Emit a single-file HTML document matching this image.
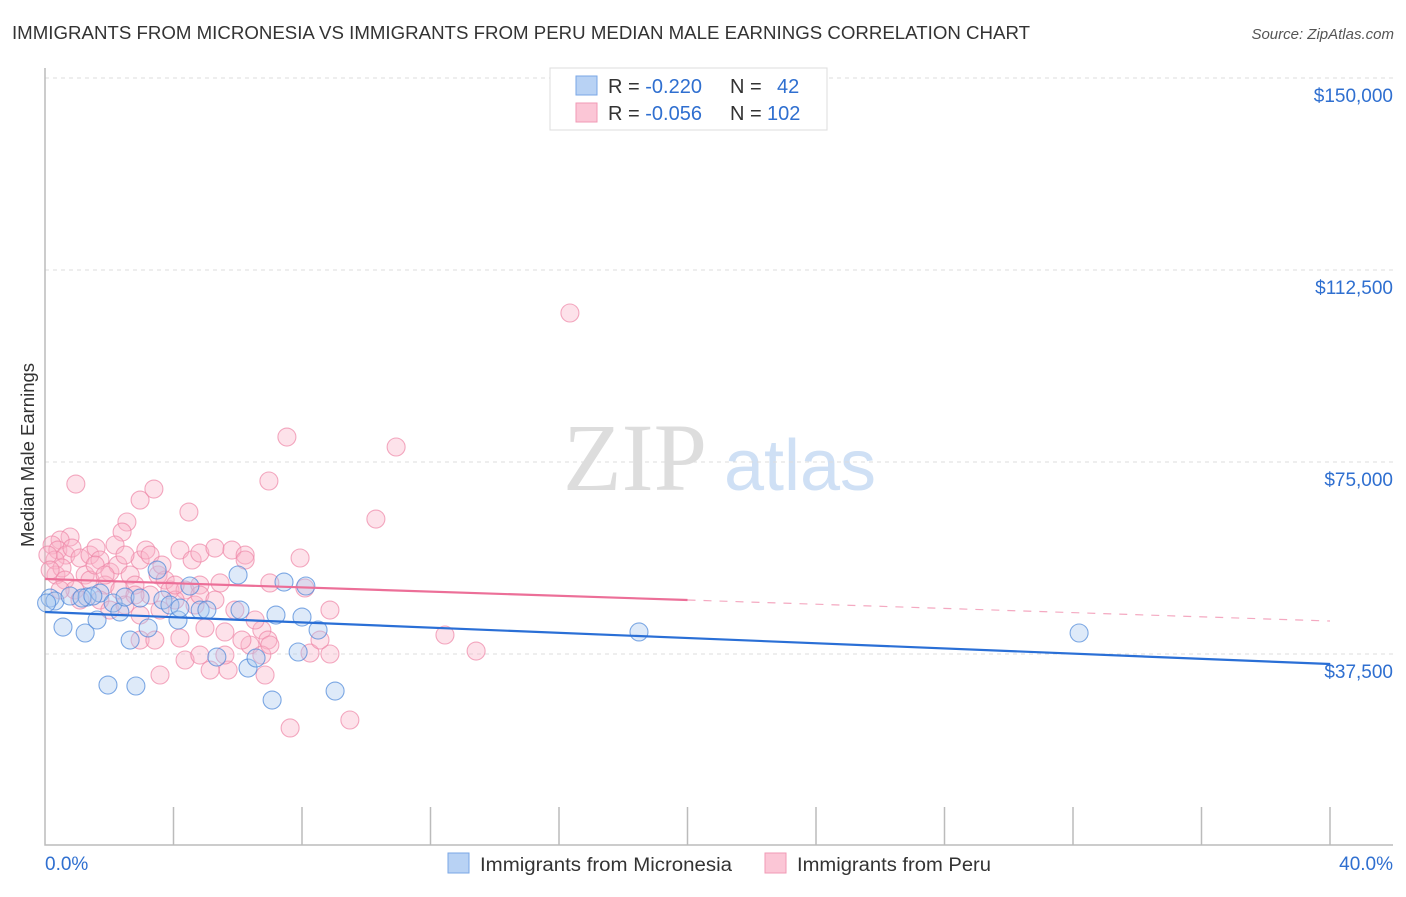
<!DOCTYPE html>
<html><head><meta charset="utf-8"><style>
body{margin:0;background:#fff;font-family:"Liberation Sans",sans-serif;}
</style></head><body>
<svg id="chart" width="1406" height="892" xmlns="http://www.w3.org/2000/svg" style="font-family:'Liberation Sans',sans-serif">
<text x="12" y="39" font-size="18" fill="#333" textLength="1018" lengthAdjust="spacingAndGlyphs">IMMIGRANTS FROM MICRONESIA VS IMMIGRANTS FROM PERU MEDIAN MALE EARNINGS CORRELATION CHART</text>
<text x="1394" y="39" font-size="15" fill="#555" text-anchor="end" font-style="italic">Source: ZipAtlas.com</text>
<text transform="translate(34,455) rotate(-90)" font-size="18.5" fill="#333" text-anchor="middle">Median Male Earnings</text>
<g><text x="635" y="490" font-size="96" fill="#ddd" font-family="Liberation Serif" text-anchor="middle">ZIP</text><text x="800" y="490" font-size="72" fill="#cfe0f5" text-anchor="middle">atlas</text></g>
<g id="grid"></g><g id="axes"></g><g id="pts"></g><g id="trend"></g>
<g>
<rect x="550" y="68" width="277" height="62" fill="#fff" stroke="#ddd"/>
<rect x="576" y="76" width="21" height="19" fill="#b8d2f4" stroke="#7aa7e6"/>
<rect x="576" y="103" width="21" height="19" fill="#fbc6d6" stroke="#f09ab5"/>
<text x="608" y="93" font-size="20" fill="#333">R = <tspan fill="#2f6fd0">-0.220</tspan><tspan x="730">N =</tspan><tspan x="777" fill="#2f6fd0">42</tspan></text>
<text x="608" y="120" font-size="20" fill="#333">R = <tspan fill="#2f6fd0">-0.056</tspan><tspan x="730">N =</tspan><tspan x="767" fill="#2f6fd0">102</tspan></text>
</g>
<g>
<rect x="448" y="853" width="21" height="20" fill="#b8d2f4" stroke="#7aa7e6"/>
<text x="480" y="871" font-size="19" fill="#333" textLength="252" lengthAdjust="spacingAndGlyphs">Immigrants from Micronesia</text>
<rect x="765" y="853" width="21" height="20" fill="#fbc6d6" stroke="#f09ab5"/>
<text x="797" y="871" font-size="19" fill="#333" textLength="194" lengthAdjust="spacingAndGlyphs">Immigrants from Peru</text>
</g>
</svg>
<script>
const yTicks=[37500,75000,112500,150000];
const yTickLabels=["$37,500","$75,000","$112,500","$150,000"];
const xTicks=[0,4,8,12,16,20,24,28,32,36,40];
const blueX=[0.16,0.31,0.56,0.78,1.25,1.31,1.62,1.71,1.96,2.12,2.33,2.65,2.83,3.21,3.49,3.67,3.89,4.14,4.51,4.83,5.04,5.35,6.01,6.32,6.57,7.07,7.19,7.44,7.88,8.00,8.12,8.50,9.03,18.49,32.19,2.49,2.96,0.05,4.20,6.07,1.15,1.49];
const blueY=[48430,47850,42770,48830,41600,48630,44140,49410,31440,47460,45700,40230,31250,42580,53900,48040,47070,44140,50780,46090,46090,36910,52930,34760,36720,28510,45110,51560,37890,44720,50780,42180,30270,41800,41600,48630,48430,47460,46480,46090,48430,48830];
const pinkX=[16.34,10.93,7.53,0.96,3.39,2.96,6.97,4.48,10.30,2.55,2.40,0.78,0.47,0.22,0.40,0.65,0.84,0.31,1.09,1.40,1.59,1.71,2.02,2.27,2.65,2.96,3.14,3.52,3.74,4.20,4.58,4.82,5.29,5.82,6.23,7.94,0.34,0.53,1.25,1.87,2.33,2.80,3.27,3.89,4.36,4.82,5.45,7.00,8.09,8.87,1.71,2.02,2.49,2.96,3.58,4.05,4.67,4.98,5.60,5.91,6.75,6.38,6.94,2.96,3.42,4.20,4.36,4.82,5.14,5.70,6.13,6.75,6.85,7.00,8.25,8.87,12.45,13.42,3.58,7.63,9.49,0.09,0.16,0.62,0.93,1.40,2.18,2.49,3.27,3.64,4.05,4.82,5.29,6.54,1.56,1.87,2.80,0.47,1.09,6.23,8.56,5.60];
const pinkY=[104100,77930,79880,70700,69720,67570,71290,65230,63860,63280,61320,60350,59760,58790,57810,56830,58200,55860,56250,56830,58200,55860,53510,54880,52930,55860,57810,52930,51950,57810,55860,57220,58200,57810,56830,56250,52930,54300,52930,50970,50000,50970,49020,50000,50000,50970,51370,51370,50390,46090,48040,46090,47070,45110,46090,48040,47070,42580,41800,46090,42190,39260,40230,40230,40230,40620,36330,37300,34370,34370,40230,37300,33400,39260,37690,37500,41210,38080,33400,23050,24610,56830,53900,51950,50000,51950,58790,56830,56830,54880,50970,49020,48040,44140,54880,52930,49020,50000,48040,55860,40230,37300];
const trendInt=[45700,52150];
const trendEnd=[35540,43940];
const solidTo=[40,20];
const X=v=>45+v/40*1285, Y=v=>846-v/37500*192;
const NS="http://www.w3.org/2000/svg";
function mk(p,t,a){const e=document.createElementNS(NS,t);for(const k in a)e.setAttribute(k,a[k]);document.getElementById(p).appendChild(e);return e;}
yTicks.forEach((t,i)=>{
 const g=mk('grid','line',{x1:45,x2:1393,y1:Y(t),y2:Y(t),stroke:'#ddd','stroke-dasharray':'4,4'});
 
 
 const l=mk('axes','text',{x:1393,y:Y(t)+24,'font-size':19,fill:'#2f6fd0','text-anchor':'end'});
 l.textContent=yTickLabels[i];
 
 
});
const ax=mk('axes','path',{d:'M45 68V845H1393',fill:'none',stroke:'#bbb','stroke-width':1.5});


xTicks.forEach(t=>{if(t===0)return;
 const k=mk('axes','line',{x1:X(t),x2:X(t),y1:807,y2:845,stroke:'#bbb','stroke-width':1.5});
 
 
});
const xl0=mk('axes','text',{x:45,y:870,'font-size':19,fill:'#2f6fd0'});xl0.textContent='0.0%';


const xl1=mk('axes','text',{x:1393,y:870,'font-size':19,fill:'#2f6fd0','text-anchor':'end'});xl1.textContent='40.0%';


function pts(xs,ys,f,s,n){xs.forEach((x,i)=>{
 const c=mk('pts','circle',{cx:X(x),cy:Y(ys[i]),r:9,fill:f,'fill-opacity':0.38,stroke:s,'stroke-opacity':0.7,'stroke-width':1.1});
 
 
});}
pts(pinkX,pinkY,'#f9b4c9','#ee86a6','peru-point');
pts(blueX,blueY,'#a9c8f0','#4a86d8','micronesia-point');
const cols=['#2a6fd6','#ec6f98'];
[0,1].forEach(i=>{
 const yAt=x=>trendInt[i]+(trendEnd[i]-trendInt[i])*x/40;
 const s=mk('trend','line',{x1:X(0),y1:Y(yAt(0)),x2:X(solidTo[i]),y2:Y(yAt(solidTo[i])),stroke:cols[i],'stroke-width':2.2});
 
 
 if(solidTo[i]<40){const d=mk('trend','line',{x1:X(solidTo[i]),y1:Y(yAt(solidTo[i])),x2:X(40),y2:Y(yAt(40)),stroke:cols[i],'stroke-width':1.2,'stroke-dasharray':'8,8','stroke-opacity':0.6});
 
 }
});
</script>
</body></html>
